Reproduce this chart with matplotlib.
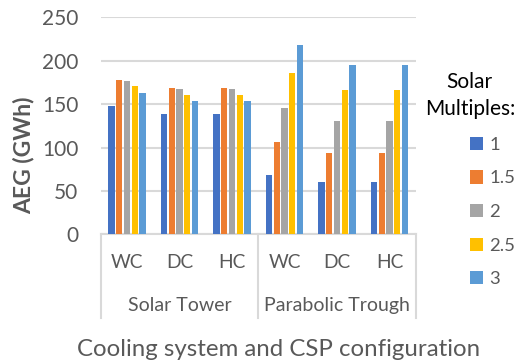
import matplotlib
matplotlib.use("Agg")
import matplotlib.pyplot as plt
import matplotlib.transforms as mtransforms
import numpy as np

# AEG per configuration for each solar multiple
configs = ["WC", "DC", "HC", "WC", "DC", "HC"]
csp_types = ["Solar Tower", "Parabolic Trough"]
solar_multiples = ["1", "1.5", "2", "2.5", "3"]
sm_1 = [148, 139, 139, 68, 60, 60]
sm_1_5 = [178, 168, 168, 106, 94, 94]
sm_2 = [177, 167, 167, 145, 130, 130]
sm_2_5 = [171, 160, 160, 186, 166, 166]
sm_3 = [163, 154, 154, 218, 195, 195]
y_ticks = [0, 50, 100, 150, 200, 250]

series = [sm_1, sm_1_5, sm_2, sm_2_5, sm_3]
colors = ["#4472C4", "#ED7D31", "#A5A5A5", "#FFC000", "#5B9BD5"]
text_color = "#595959"
line_color = "#D9D9D9"

plt.rcParams["font.family"] = ["Lato", "DejaVu Sans"]

fig = plt.figure(figsize=(5.17, 3.6), dpi=100)
ax = fig.add_axes([0.1948, 0.349, 0.6094, 0.603])

x = np.arange(len(configs)) + 0.5
slot = 0.147
for i, (vals, c) in enumerate(zip(series, colors)):
    ax.bar(x + (i - 2) * slot, vals, width=0.12, color=c, label=solar_multiples[i], zorder=3)

ax.set_xlim(0, len(configs))
ax.set_ylim(0, 250)
ax.set_yticks(y_ticks)
ax.yaxis.grid(True, color=line_color, linewidth=1.5, zorder=0)
ax.tick_params(axis="y", length=0, pad=16, labelsize=15, labelcolor=text_color)
ax.set_xticks(x)
ax.set_xticklabels(configs)
ax.tick_params(axis="x", length=0, pad=14, labelsize=13.8, labelcolor=text_color)
for side in ["top", "right", "left"]:
    ax.spines[side].set_visible(False)
ax.spines["bottom"].set_color(line_color)
ax.spines["bottom"].set_linewidth(1.5)

# two-level category box below the axis
trans = mtransforms.blended_transform_factory(ax.transData, ax.transAxes)
for xb in [0, 3, 6]:
    ax.plot([xb, xb], [0, -0.387], transform=trans, color=line_color, linewidth=1.5, clip_on=False)
for j, name in enumerate(csp_types):
    ax.text(1.5 + 3 * j, -0.33, name, transform=trans, ha="center", va="center",
            fontsize=14, color=text_color)

ax.set_ylabel("AEG (GWh)", fontsize=16.5, fontweight="bold", color=text_color)
ax.yaxis.set_label_coords(-0.21, 0.365)
ax.set_xlabel("Cooling system and CSP configuration", fontsize=17.3, color=text_color)
ax.xaxis.set_label_coords(0.565, -0.484)

leg = ax.legend(loc="upper right", bbox_to_anchor=(0.996, 0.80), bbox_transform=fig.transFigure,
                title="Solar\nMultiples:", alignment="right", frameon=False, borderpad=0,
                borderaxespad=0, fontsize=13.3, title_fontsize=15, labelcolor=text_color,
                handlelength=0.72, handleheight=0.72, handletextpad=0.32, labelspacing=0.95)
leg.get_title().set_multialignment("center")
leg.get_title().set_linespacing(1.45)

fig.savefig("out.png", dpi=100)
